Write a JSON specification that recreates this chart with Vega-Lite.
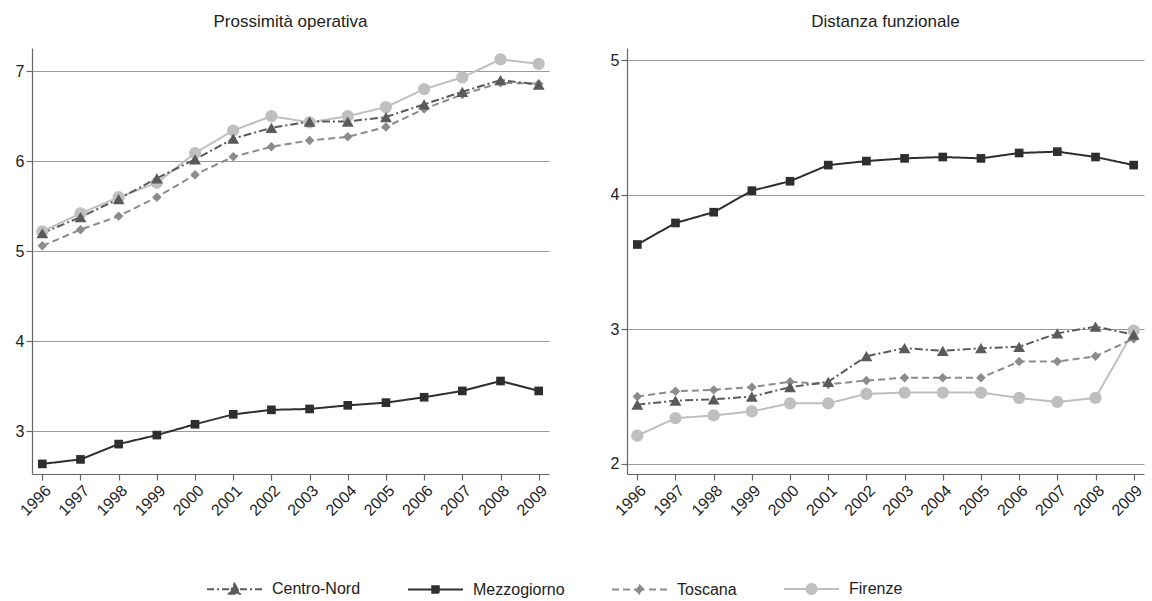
{
  "$schema": "https://vega.github.io/schema/vega-lite/v6.json",
  "padding": {"left": 15, "top": 13, "right": 6, "bottom": 2},
  "datasets": {
    "d": [
      {"p":"L","s":"Firenze","y":"1996","v":5.22},{"p":"L","s":"Firenze","y":"1997","v":5.42},{"p":"L","s":"Firenze","y":"1998","v":5.60},{"p":"L","s":"Firenze","y":"1999","v":5.76},{"p":"L","s":"Firenze","y":"2000","v":6.09},{"p":"L","s":"Firenze","y":"2001","v":6.34},{"p":"L","s":"Firenze","y":"2002","v":6.50},{"p":"L","s":"Firenze","y":"2003","v":6.43},{"p":"L","s":"Firenze","y":"2004","v":6.50},{"p":"L","s":"Firenze","y":"2005","v":6.60},{"p":"L","s":"Firenze","y":"2006","v":6.80},{"p":"L","s":"Firenze","y":"2007","v":6.93},{"p":"L","s":"Firenze","y":"2008","v":7.13},{"p":"L","s":"Firenze","y":"2009","v":7.08},
      {"p":"L","s":"Toscana","y":"1996","v":5.06},{"p":"L","s":"Toscana","y":"1997","v":5.24},{"p":"L","s":"Toscana","y":"1998","v":5.39},{"p":"L","s":"Toscana","y":"1999","v":5.60},{"p":"L","s":"Toscana","y":"2000","v":5.85},{"p":"L","s":"Toscana","y":"2001","v":6.05},{"p":"L","s":"Toscana","y":"2002","v":6.16},{"p":"L","s":"Toscana","y":"2003","v":6.23},{"p":"L","s":"Toscana","y":"2004","v":6.27},{"p":"L","s":"Toscana","y":"2005","v":6.38},{"p":"L","s":"Toscana","y":"2006","v":6.58},{"p":"L","s":"Toscana","y":"2007","v":6.74},{"p":"L","s":"Toscana","y":"2008","v":6.87},{"p":"L","s":"Toscana","y":"2009","v":6.86},
      {"p":"L","s":"Mezzogiorno","y":"1996","v":2.64},{"p":"L","s":"Mezzogiorno","y":"1997","v":2.69},{"p":"L","s":"Mezzogiorno","y":"1998","v":2.86},{"p":"L","s":"Mezzogiorno","y":"1999","v":2.96},{"p":"L","s":"Mezzogiorno","y":"2000","v":3.08},{"p":"L","s":"Mezzogiorno","y":"2001","v":3.19},{"p":"L","s":"Mezzogiorno","y":"2002","v":3.24},{"p":"L","s":"Mezzogiorno","y":"2003","v":3.25},{"p":"L","s":"Mezzogiorno","y":"2004","v":3.29},{"p":"L","s":"Mezzogiorno","y":"2005","v":3.32},{"p":"L","s":"Mezzogiorno","y":"2006","v":3.38},{"p":"L","s":"Mezzogiorno","y":"2007","v":3.45},{"p":"L","s":"Mezzogiorno","y":"2008","v":3.56},{"p":"L","s":"Mezzogiorno","y":"2009","v":3.45},
      {"p":"L","s":"Centro-Nord","y":"1996","v":5.20},{"p":"L","s":"Centro-Nord","y":"1997","v":5.38},{"p":"L","s":"Centro-Nord","y":"1998","v":5.58},{"p":"L","s":"Centro-Nord","y":"1999","v":5.81},{"p":"L","s":"Centro-Nord","y":"2000","v":6.02},{"p":"L","s":"Centro-Nord","y":"2001","v":6.25},{"p":"L","s":"Centro-Nord","y":"2002","v":6.37},{"p":"L","s":"Centro-Nord","y":"2003","v":6.44},{"p":"L","s":"Centro-Nord","y":"2004","v":6.44},{"p":"L","s":"Centro-Nord","y":"2005","v":6.49},{"p":"L","s":"Centro-Nord","y":"2006","v":6.63},{"p":"L","s":"Centro-Nord","y":"2007","v":6.77},{"p":"L","s":"Centro-Nord","y":"2008","v":6.90},{"p":"L","s":"Centro-Nord","y":"2009","v":6.85},
      {"p":"R","s":"Firenze","y":"1996","v":2.21},{"p":"R","s":"Firenze","y":"1997","v":2.34},{"p":"R","s":"Firenze","y":"1998","v":2.36},{"p":"R","s":"Firenze","y":"1999","v":2.39},{"p":"R","s":"Firenze","y":"2000","v":2.45},{"p":"R","s":"Firenze","y":"2001","v":2.45},{"p":"R","s":"Firenze","y":"2002","v":2.52},{"p":"R","s":"Firenze","y":"2003","v":2.53},{"p":"R","s":"Firenze","y":"2004","v":2.53},{"p":"R","s":"Firenze","y":"2005","v":2.53},{"p":"R","s":"Firenze","y":"2006","v":2.49},{"p":"R","s":"Firenze","y":"2007","v":2.46},{"p":"R","s":"Firenze","y":"2008","v":2.49},{"p":"R","s":"Firenze","y":"2009","v":2.99},
      {"p":"R","s":"Toscana","y":"1996","v":2.50},{"p":"R","s":"Toscana","y":"1997","v":2.54},{"p":"R","s":"Toscana","y":"1998","v":2.55},{"p":"R","s":"Toscana","y":"1999","v":2.57},{"p":"R","s":"Toscana","y":"2000","v":2.61},{"p":"R","s":"Toscana","y":"2001","v":2.59},{"p":"R","s":"Toscana","y":"2002","v":2.62},{"p":"R","s":"Toscana","y":"2003","v":2.64},{"p":"R","s":"Toscana","y":"2004","v":2.64},{"p":"R","s":"Toscana","y":"2005","v":2.64},{"p":"R","s":"Toscana","y":"2006","v":2.76},{"p":"R","s":"Toscana","y":"2007","v":2.76},{"p":"R","s":"Toscana","y":"2008","v":2.80},{"p":"R","s":"Toscana","y":"2009","v":2.93},
      {"p":"R","s":"Mezzogiorno","y":"1996","v":3.63},{"p":"R","s":"Mezzogiorno","y":"1997","v":3.79},{"p":"R","s":"Mezzogiorno","y":"1998","v":3.87},{"p":"R","s":"Mezzogiorno","y":"1999","v":4.03},{"p":"R","s":"Mezzogiorno","y":"2000","v":4.10},{"p":"R","s":"Mezzogiorno","y":"2001","v":4.22},{"p":"R","s":"Mezzogiorno","y":"2002","v":4.25},{"p":"R","s":"Mezzogiorno","y":"2003","v":4.27},{"p":"R","s":"Mezzogiorno","y":"2004","v":4.28},{"p":"R","s":"Mezzogiorno","y":"2005","v":4.27},{"p":"R","s":"Mezzogiorno","y":"2006","v":4.31},{"p":"R","s":"Mezzogiorno","y":"2007","v":4.32},{"p":"R","s":"Mezzogiorno","y":"2008","v":4.28},{"p":"R","s":"Mezzogiorno","y":"2009","v":4.22},
      {"p":"R","s":"Centro-Nord","y":"1996","v":2.44},{"p":"R","s":"Centro-Nord","y":"1997","v":2.47},{"p":"R","s":"Centro-Nord","y":"1998","v":2.48},{"p":"R","s":"Centro-Nord","y":"1999","v":2.50},{"p":"R","s":"Centro-Nord","y":"2000","v":2.57},{"p":"R","s":"Centro-Nord","y":"2001","v":2.61},{"p":"R","s":"Centro-Nord","y":"2002","v":2.80},{"p":"R","s":"Centro-Nord","y":"2003","v":2.86},{"p":"R","s":"Centro-Nord","y":"2004","v":2.84},{"p":"R","s":"Centro-Nord","y":"2005","v":2.86},{"p":"R","s":"Centro-Nord","y":"2006","v":2.87},{"p":"R","s":"Centro-Nord","y":"2007","v":2.97},{"p":"R","s":"Centro-Nord","y":"2008","v":3.02},{"p":"R","s":"Centro-Nord","y":"2009","v":2.96}
    ]
  },
  "data": {"name": "d"},
  "config": {
    "font": "Liberation Sans",
    "view": {"stroke": null},
    "axis": {"labelFont": "Liberation Sans", "labelFontSize": 16, "labelColor": "#222", "domainColor": "#666", "domainWidth": 1.2, "tickColor": "#666", "tickWidth": 1.2, "gridColor": "#9a9a9a", "gridWidth": 1.2, "tickSize": 6, "labelPadding": 2},
    "title": {"font": "Liberation Sans", "fontSize": 17, "fontWeight": "normal", "color": "#222", "anchor": "middle", "frame": "group"},
    "legend": {"labelFont": "Liberation Sans"}
  },
  "spacing": 59,
  "resolve": {"scale": {"y": "independent"}},
  "hconcat": [
    {
      "title": {"text": "Prossimità operativa", "offset": 17},
      "width": 517, "height": 426,
      "transform": [{"filter": "datum.p == 'L'"}],
      "encoding": {
        "x": {"field": "y", "type": "ordinal", "scale": {"type": "point", "padding": 0.27}, "axis": {"title": null, "labelAngle": -45, "labelAlign": "right", "grid": false}},
        "y": {"field": "v", "type": "quantitative", "scale": {"domain": [2.528, 7.256], "nice": false, "zero": false}, "axis": {"title": null, "values": [3, 4, 5, 6, 7], "grid": true}},
        "color": {"field": "s", "type": "nominal", "scale": {"domain": ["Centro-Nord", "Mezzogiorno", "Toscana", "Firenze"], "range": ["#5a5a5a", "#2e2e2e", "#8c8c8c", "#bfbfbf"]},
          "legend": {"orient": "none", "legendX": 173, "legendY": 533, "direction": "horizontal", "columns": 4, "columnPadding": 43, "title": null, "labelFontSize": 16, "labelColor": "#222", "labelOffset": 51, "symbolSize": 100, "symbolStrokeWidth": 2, "symbolOpacity": 1}}
      },
      "layer": [
        {"mark": {"type": "line", "strokeWidth": 2}, "encoding": {
          "strokeDash": {"field": "s", "type": "nominal", "scale": {"domain": ["Centro-Nord", "Mezzogiorno", "Toscana", "Firenze"], "range": [[8, 3, 2, 3], [1, 0], [7, 4], [1, 0]]}, "legend": null}}},
        {"mark": {"type": "point", "filled": true, "opacity": 1}, "encoding": {
          "shape": {"condition": [{"test": "datum.s == 'Centro-Nord'", "value": "triangle-up"}, {"test": "datum.s == 'Mezzogiorno'", "value": "square"}, {"test": "datum.s == 'Toscana'", "value": "diamond"}], "value": "circle"},
          "size": {"condition": [{"test": "datum.s == 'Mezzogiorno'", "value": 75}, {"test": "datum.s == 'Toscana'", "value": 90}, {"test": "datum.s == 'Firenze'", "value": 150}], "value": 140}}},
        {"transform": [{"filter": "datum.p == 'none'"}],
         "mark": {"type": "point", "filled": false, "size": 100, "strokeWidth": 2, "opacity": 1},
         "encoding": {
          "shape": {"field": "s", "type": "nominal", "scale": {"domain": ["Centro-Nord", "Mezzogiorno", "Toscana", "Firenze"], "range": [
            "M-1.2,0H0.2M0.8,0H1.2M1.8,0H3.2M5.4,0H6.8M7.4,0H7.8M8.4,0H9.8M4.3,-1.1L5.4,0.9L3.2,0.9ZM4.3,-0.5L4.905,0.6L3.695,0.6ZM4.3,-0.034L4.52,0.366L4.08,0.366Z",
            "M-1.2,0H9.8M3.65,-0.65H4.95V0.65H3.65ZM4.0,-0.3H4.6V0.3H4.0ZM4.2,-0.1H4.4V0.1H4.2Z",
            "M-1.2,0H0.2M1,0H2.4M3.2,0H5.4M6.2,0H7.6M8.4,0H9.8M4.3,-0.8L5.1,0L4.3,0.8L3.5,0ZM4.3,-0.45L4.75,0L4.3,0.45L3.85,0ZM4.3,-0.15L4.45,0L4.3,0.15L4.15,0Z",
            "M-1.2,0H9.8M3.3,0A1,1,0,1,0,5.3,0A1,1,0,1,0,3.3,0ZM3.7,0A0.6,0.6,0,1,0,4.9,0A0.6,0.6,0,1,0,3.7,0ZM4.1,0A0.2,0.2,0,1,0,4.5,0A0.2,0.2,0,1,0,4.1,0Z"]},
            "legend": {"orient": "none", "legendX": 173, "legendY": 533, "direction": "horizontal", "columns": 4, "columnPadding": 43, "title": null, "labelFontSize": 16, "labelColor": "#222", "labelOffset": 51, "symbolSize": 100, "symbolStrokeWidth": 2, "symbolOpacity": 1}}
         }}
      ]
    },
    {
      "title": {"text": "Distanza funzionale", "offset": 17},
      "width": 517, "height": 426,
      "transform": [{"filter": "datum.p == 'R'"}],
      "encoding": {
        "x": {"field": "y", "type": "ordinal", "scale": {"type": "point", "padding": 0.27}, "axis": {"title": null, "labelAngle": -45, "labelAlign": "right", "grid": false}},
        "y": {"field": "v", "type": "quantitative", "scale": {"domain": [1.925, 5.09], "nice": false, "zero": false}, "axis": {"title": null, "values": [2, 3, 4, 5], "grid": true}},
        "color": {"field": "s", "type": "nominal", "scale": {"domain": ["Centro-Nord", "Mezzogiorno", "Toscana", "Firenze"], "range": ["#5a5a5a", "#2e2e2e", "#8c8c8c", "#bfbfbf"]}}
      },
      "layer": [
        {"mark": {"type": "line", "strokeWidth": 2}, "encoding": {
          "strokeDash": {"field": "s", "type": "nominal", "scale": {"domain": ["Centro-Nord", "Mezzogiorno", "Toscana", "Firenze"], "range": [[8, 3, 2, 3], [1, 0], [7, 4], [1, 0]]}, "legend": null}}},
        {"mark": {"type": "point", "filled": true, "opacity": 1}, "encoding": {
          "shape": {"condition": [{"test": "datum.s == 'Centro-Nord'", "value": "triangle-up"}, {"test": "datum.s == 'Mezzogiorno'", "value": "square"}, {"test": "datum.s == 'Toscana'", "value": "diamond"}], "value": "circle"},
          "size": {"condition": [{"test": "datum.s == 'Mezzogiorno'", "value": 75}, {"test": "datum.s == 'Toscana'", "value": 90}, {"test": "datum.s == 'Firenze'", "value": 150}], "value": 140}}}
      ]
    }
  ]
}
